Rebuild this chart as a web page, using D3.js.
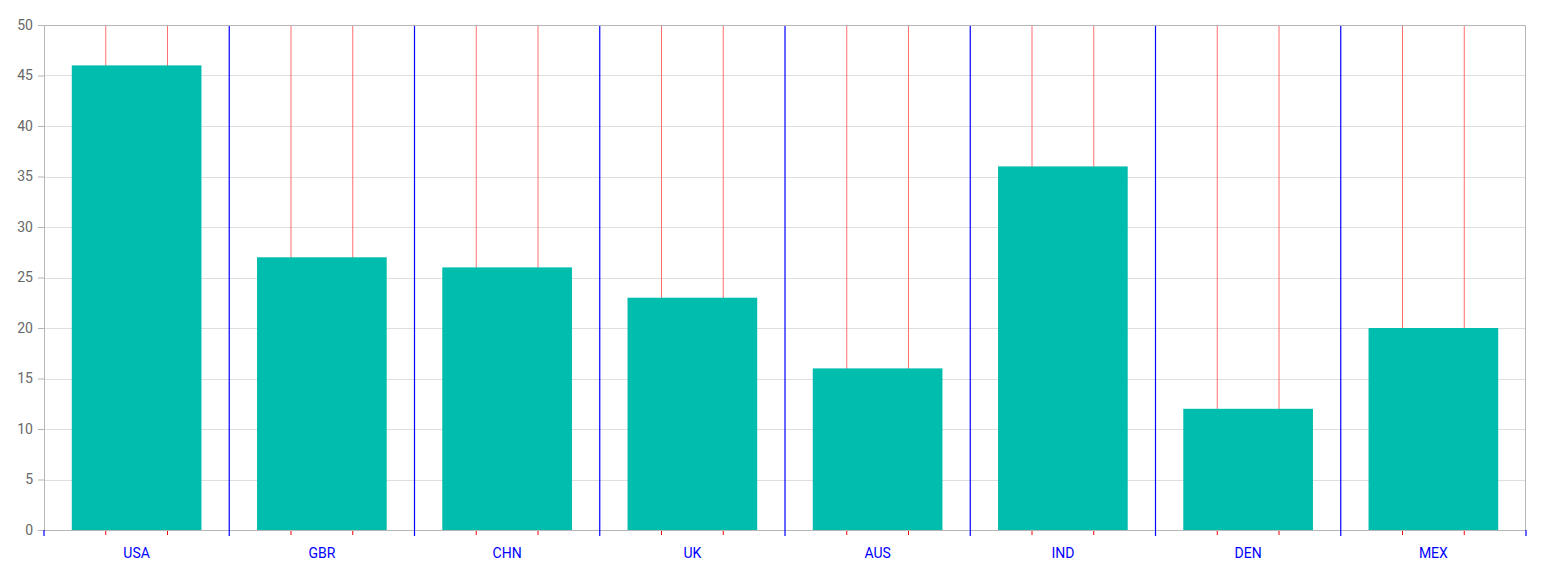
<!DOCTYPE html>
<html>
<head>
<meta charset="utf-8">
<script src="https://d3js.org/d3.v7.min.js"></script>
<style>
  body { margin: 0; background: #fff; }
  text { font-family: Roboto, sans-serif; }
</style>
</head>
<body>
<svg id="chart" width="1545" height="582"></svg>
<script>
var categories = ["USA", "GBR", "CHN", "UK", "AUS", "IND", "DEN", "MEX"];
var medals = [46, 27, 26, 23, 16, 36, 12, 20];
var yTicks = [0, 5, 10, 15, 20, 25, 30, 35, 40, 45, 50];

var svg = d3.select("svg#chart"),
    margin = { top: 25, right: 19, bottom: 52, left: 44 },
    width = +svg.attr("width") - margin.left - margin.right,
    height = +svg.attr("height") - margin.top - margin.bottom;

var g = svg.append("g")
    .attr("transform", "translate(" + margin.left + "," + margin.top + ")");

var x = d3.scaleBand()
    .domain(categories)
    .range([0, width])
    .padding(0);

var y = d3.scaleLinear()
    .domain([0, 50])
    .range([height, 0]);

// horizontal grid
g.append("g")
    .selectAll("line")
    .data(yTicks)
    .enter().append("line")
    .attr("x1", 0)
    .attr("x2", width)
    .attr("y1", function(d) { return Math.round(y(d)) + 0.5; })
    .attr("y2", function(d) { return Math.round(y(d)) + 0.5; })
    .attr("stroke", "#dedede")
    .attr("stroke-width", 1);

// minor vertical grid (red), two per band
var minor = [];
categories.forEach(function(c) {
    minor.push(x(c) + x.bandwidth() / 3);
    minor.push(x(c) + x.bandwidth() * 2 / 3);
});

g.append("g")
    .selectAll("line")
    .data(minor)
    .enter().append("line")
    .attr("x1", function(d) { return d; })
    .attr("x2", function(d) { return d; })
    .attr("y1", 0)
    .attr("y2", height)
    .attr("stroke", "#ff6f6f")
    .attr("stroke-width", 1);

// minor ticks
g.append("g")
    .selectAll("line")
    .data(minor)
    .enter().append("line")
    .attr("x1", function(d) { return d; })
    .attr("x2", function(d) { return d; })
    .attr("y1", height)
    .attr("y2", height + 5)
    .attr("stroke", "#ff0000")
    .attr("stroke-width", 1);

// major vertical grid (blue), band boundaries
var major = categories.map(function(c) { return x(c); }).concat([width]);

g.append("g")
    .selectAll("line")
    .data(major.slice(1, -1))
    .enter().append("line")
    .attr("x1", function(d) { return d; })
    .attr("x2", function(d) { return d; })
    .attr("y1", 0)
    .attr("y2", height)
    .attr("stroke", "#0000ff")
    .attr("stroke-width", 1.2);

// bars
var barW = x.bandwidth() * 0.7;
g.append("g")
    .selectAll("rect")
    .data(medals)
    .enter().append("rect")
    .attr("x", function(d, i) { return x(categories[i]) + (x.bandwidth() - barW) / 2; })
    .attr("width", barW)
    .attr("y", function(d) { return y(d); })
    .attr("height", function(d) { return height - y(d); })
    .attr("fill", "#00bdae");

// plot border (top / right)
g.append("path")
    .attr("d", "M0.5,0.5H" + (width - 0.5) + "V" + height)
    .attr("fill", "none")
    .attr("stroke", "#b5b5b5")
    .attr("stroke-width", 1);

// y axis
var yAxis = g.append("g")
    .call(d3.axisLeft(y).tickValues(yTicks).tickSize(6).tickPadding(5));
yAxis.select(".domain").attr("stroke", "#b5b5b5").attr("d", "M-6,0.5H0.5V" + height);
yAxis.selectAll(".tick line").attr("stroke", "#b5b5b5");
yAxis.selectAll(".tick text")
    .attr("fill", "#686868")
    .style("font-size", "14px");

// x axis
var xAxis = g.append("g")
    .attr("transform", "translate(0," + height + ")")
    .call(d3.axisBottom(x).tickSize(0).tickPadding(18));
xAxis.select(".domain").attr("stroke", "#b5b5b5").attr("d", "M0," + 0.5 + "H" + width);
xAxis.selectAll(".tick text")
    .attr("fill", "#0000ff")
    .style("font-size", "14px");

// major ticks
xAxis.append("g")
    .selectAll("line")
    .data(major)
    .enter().append("line")
    .attr("x1", function(d) { return d; })
    .attr("x2", function(d) { return d; })
    .attr("y1", 0)
    .attr("y2", 6)
    .attr("stroke", "#0000ff")
    .attr("stroke-width", 1.2);
</script>
</body>
</html>
